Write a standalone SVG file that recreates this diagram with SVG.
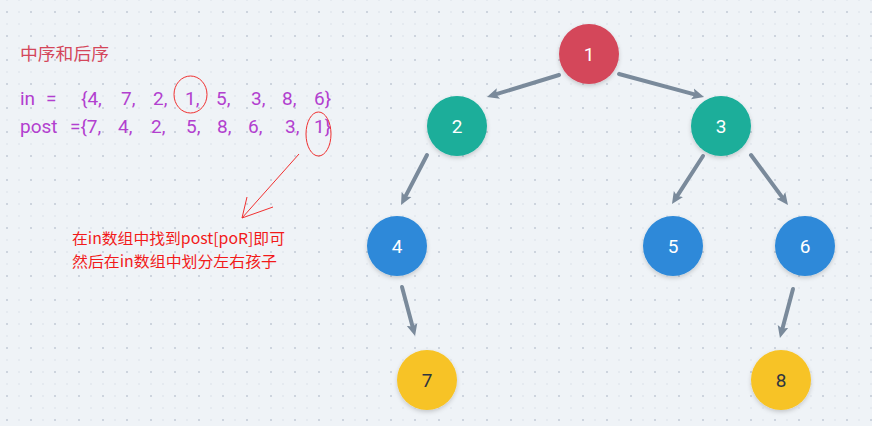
<svg xmlns="http://www.w3.org/2000/svg" width="872" height="426" viewBox="0 0 872 426">
<style>
.dig{font-family:Roboto,"Liberation Sans",sans-serif;font-size:19px;text-anchor:middle;dominant-baseline:central}
.w{fill:#ffffff}
.d{fill:#2f3540}
.edge{stroke:#7a8a9b;stroke-width:4;stroke-linecap:round;fill:none;marker-end:url(#ah)}
.seq{font-family:Roboto,"Liberation Sans",sans-serif;font-size:19px;fill:#b23fcf}
.note{font-family:"Noto Sans CJK SC","Noto Sans",sans-serif;font-size:15px;fill:#f21a1a}
.red{stroke:#f03030;stroke-width:1;fill:none}
</style>
<defs>
<pattern id="g1" x="7" y="0" width="12" height="12" patternUnits="userSpaceOnUse">
<rect x="-0.7" y="-0.7" width="1.4" height="1.4" fill="#d9e0e8"/>
<rect x="11.3" y="-0.7" width="1.4" height="1.4" fill="#d9e0e8"/>
<rect x="-0.7" y="11.3" width="1.4" height="1.4" fill="#d9e0e8"/>
<rect x="11.3" y="11.3" width="1.4" height="1.4" fill="#d9e0e8"/>
</pattern>
<pattern id="g2" x="7" y="12" width="24" height="24" patternUnits="userSpaceOnUse">
<rect x="-0.8" y="-0.8" width="1.6" height="1.6" fill="#bfc9d4"/>
<rect x="23.2" y="-0.8" width="1.6" height="1.6" fill="#bfc9d4"/>
<rect x="-0.8" y="23.2" width="1.6" height="1.6" fill="#bfc9d4"/>
<rect x="23.2" y="23.2" width="1.6" height="1.6" fill="#bfc9d4"/>
</pattern>
<marker id="ah" viewBox="0 0 12 12" refX="4" refY="6" markerWidth="12" markerHeight="12" markerUnits="userSpaceOnUse" orient="auto">
<path d="M0,0.5 L12,6 L0,11.5 L2.5,6 Z" fill="#7a8a9b"/>
</marker>
<filter id="sh" x="-30%" y="-30%" width="160%" height="160%">
<feDropShadow dx="0" dy="2" stdDeviation="2" flood-color="#000" flood-opacity="0.18"/>
</filter>
</defs>
<rect width="872" height="426" fill="#eff3f7"/>
<rect width="872" height="426" fill="url(#g1)"/>
<rect width="872" height="426" fill="url(#g2)"/>

<g id="connectors">
<line class="edge" x1="559" y1="75" x2="494.6" y2="94.7"/>
<line class="edge" x1="619" y1="74" x2="696.3" y2="94.9"/>
<line class="edge" x1="427" y1="155" x2="404.7" y2="197.9"/>
<line class="edge" x1="703" y1="156" x2="676.3" y2="197.3"/>
<line class="edge" x1="751" y1="155" x2="783.2" y2="198.6"/>
<line class="edge" x1="402" y1="287" x2="413" y2="328.3"/>
<line class="edge" x1="793" y1="289" x2="782" y2="330.3"/>
</g>

<g id="node1"><circle cx="589" cy="54" r="30" fill="#d4465a" filter="url(#sh)"/><text class="dig w" x="589" y="54">1</text></g>
<g id="node2"><circle cx="457" cy="126" r="30" fill="#1aae9a" filter="url(#sh)"/><text class="dig w" x="457" y="126">2</text></g>
<g id="node3"><circle cx="721" cy="126" r="30" fill="#1aae9a" filter="url(#sh)"/><text class="dig w" x="721" y="126">3</text></g>
<g id="node4"><circle cx="397" cy="246" r="30" fill="#2d89d9" filter="url(#sh)"/><text class="dig w" x="397" y="246">4</text></g>
<g id="node5"><circle cx="673" cy="246" r="30" fill="#2d89d9" filter="url(#sh)"/><text class="dig w" x="673" y="246">5</text></g>
<g id="node6"><circle cx="805" cy="246" r="30" fill="#2d89d9" filter="url(#sh)"/><text class="dig w" x="805" y="246">6</text></g>
<g id="node7"><circle cx="427" cy="380" r="30" fill="#f7c325" filter="url(#sh)"/><text class="dig d" x="427" y="380">7</text></g>
<g id="node8"><circle cx="781" cy="380" r="30" fill="#f7c325" filter="url(#sh)"/><text class="dig d" x="781" y="380">8</text></g>

<g id="annotation">
<text x="20" y="60" font-family="'Noto Sans CJK SC',sans-serif" font-size="17" fill="#d4465a" textLength="89" lengthAdjust="spacingAndGlyphs">中序和后序</text>
<g class="seq">
<text x="20" y="105">in</text><text x="46" y="105">=</text>
<text x="81" y="105">{4,</text><text x="121" y="105">7,</text><text x="153" y="105">2,</text><text x="185" y="105">1,</text>
<text x="216" y="105">5,</text><text x="251" y="105">3,</text><text x="282" y="105">8,</text><text x="314" y="105">6}</text>
<text x="20" y="133">post</text><text x="70" y="133">={7,</text><text x="118" y="133">4,</text><text x="151" y="133">2,</text>
<text x="186" y="133">5,</text><text x="217" y="133">8,</text><text x="248" y="133">6,</text><text x="285" y="133">3,</text><text x="314" y="133">1}</text>
</g>
<ellipse class="red" cx="190.5" cy="94.5" rx="16.5" ry="18.5"/>
<ellipse class="red" cx="318.5" cy="134" rx="12.5" ry="22"/>
<line class="red" x1="299" y1="154" x2="242" y2="218"/>
<polyline class="red" points="247,197 242,218 273,207"/>
<text class="note" x="72" y="244" textLength="213" lengthAdjust="spacingAndGlyphs">在in数组中找到post[poR]即可</text>
<text class="note" x="72" y="267" textLength="205" lengthAdjust="spacingAndGlyphs">然后在in数组中划分左右孩子</text>
</g>
</svg>
